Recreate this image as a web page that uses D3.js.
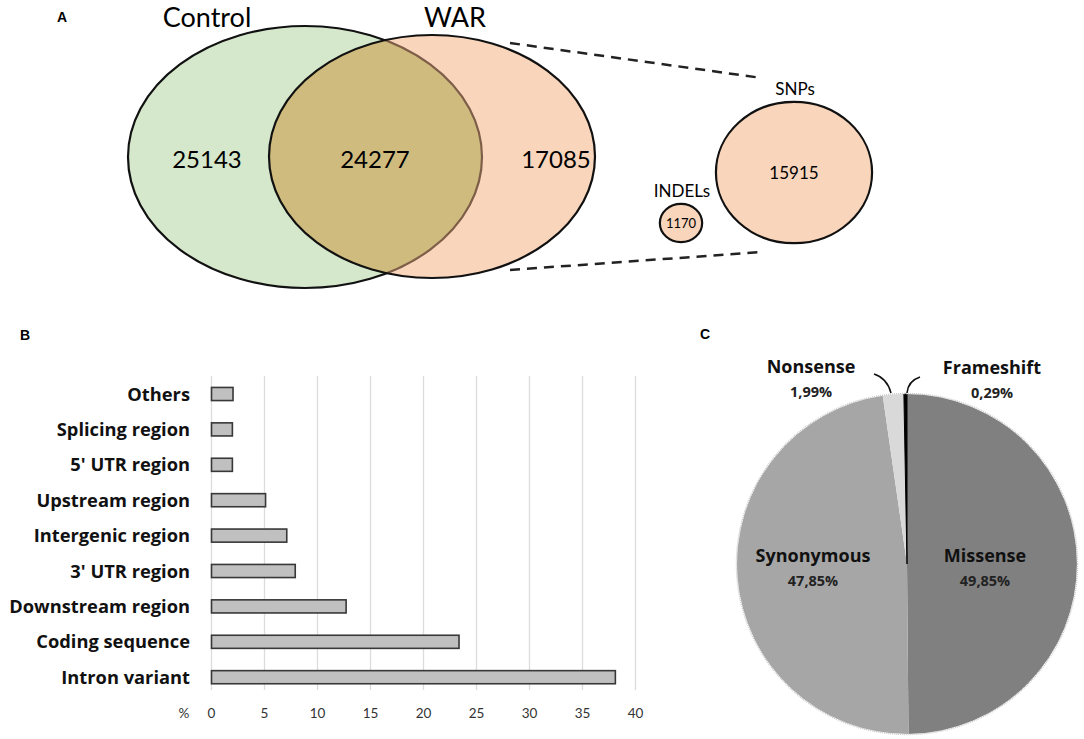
<!DOCTYPE html>
<html><head><meta charset="utf-8">
<script src="https://cdn.jsdelivr.net/npm/d3@7"></script>
<style>body{margin:0;background:#fff}svg{display:block}</style>
</head><body>
<svg id="c" width="1084" height="739"></svg>
<script>
// ---- Data ----
const vennSets = ["Control", "WAR"];
const vennCounts = [25143, 24277, 17085]; // Control only, shared, WAR only
const splitLabels = ["SNPs", "INDELs"];
const splitCounts = [15915, 1170];

const regionCategories = ["Others","Splicing region","5' UTR region","Upstream region","Intergenic region","3' UTR region","Downstream region","Coding sequence","Intron variant"];
const regionValues = [2.03, 1.97, 1.97, 5.1, 7.1, 7.9, 12.7, 23.35, 38.1];
const regionTicks = [0,5,10,15,20,25,30,35,40];

const effectCategories = ["Missense","Synonymous","Nonsense","Frameshift"];
const effectValues = [49.85, 47.85, 1.99, 0.29];
const effectLabels = ["49,85%","47,85%","1,99%","0,29%"];
const effectColors = ["#808080","#a6a6a6","#d9d9d9","#000000"];

const svg = d3.select("#c");
const FONT = "Lato, 'Open Sans', sans-serif";
const BFONT = "'Open Sans', Lato, sans-serif";

// ---- Panel letters ----
[["A",57,22],["B",20,340],["C",700,339]].forEach(([t,x,y])=>{
  svg.append("text").attr("x",x).attr("y",y).text(t)
    .attr("font-family","'Liberation Sans', Arial, sans-serif").attr("font-weight","bold").attr("font-size",14);
});

// ---- Panel A: Venn ----
const A = svg.append("g");
const ctrl = {cx:305, cy:157, rx:177, ry:131};
const war = {cx:432, cy:156.5, rx:163, ry:121.5};
const defs = svg.append("defs");
defs.append("clipPath").attr("id","warClip").append("ellipse")
  .attr("cx",war.cx).attr("cy",war.cy).attr("rx",war.rx).attr("ry",war.ry);

A.append("ellipse").attr("cx",ctrl.cx).attr("cy",ctrl.cy).attr("rx",ctrl.rx).attr("ry",ctrl.ry)
  .attr("fill","#d5e8cb").attr("stroke","#111").attr("stroke-width",2.2);
A.append("ellipse").attr("cx",war.cx).attr("cy",war.cy).attr("rx",war.rx).attr("ry",war.ry)
  .attr("fill","#f8d5bb").attr("stroke","none");
const clipG = A.append("g").attr("clip-path","url(#warClip)");
clipG.append("ellipse").attr("cx",ctrl.cx).attr("cy",ctrl.cy).attr("rx",ctrl.rx).attr("ry",ctrl.ry)
  .attr("fill","#cfbb7e").attr("stroke","#7e5e48").attr("stroke-width",2.2);
A.append("ellipse").attr("cx",war.cx).attr("cy",war.cy).attr("rx",war.rx).attr("ry",war.ry)
  .attr("fill","none").attr("stroke","#111").attr("stroke-width",2.2);

A.append("text").attr("x",207).attr("y",27).attr("text-anchor","middle").text(vennSets[0])
  .attr("font-family",FONT).attr("font-size",27);
A.append("text").attr("x",455).attr("y",27).attr("text-anchor","middle").text(vennSets[1])
  .attr("font-family",FONT).attr("font-size",27);
[207,375,556].forEach((x,i)=>{
  A.append("text").attr("x",x).attr("y",168).attr("text-anchor","middle").text(vennCounts[i])
    .attr("font-family",FONT).attr("font-size",24);
});

// dashed zoom lines
A.append("line").attr("x1",510).attr("y1",43).attr("x2",762).attr("y2",78)
  .attr("stroke","#222").attr("stroke-width",2.5).attr("stroke-dasharray","10,7");
A.append("line").attr("x1",510).attr("y1",270).attr("x2",762).attr("y2",252)
  .attr("stroke","#222").attr("stroke-width",2.5).attr("stroke-dasharray","10,7");

const rScale = d3.scaleSqrt().domain([0, splitCounts[0]]).range([0, 74]);
const splitPos = [{cx:794, cy:172.5, ly:95, fs:17}, {cx:681, cy:223, ly:197, fs:13}];
splitCounts.forEach((v,i)=>{
  const r = rScale(v), p = splitPos[i];
  A.append("ellipse").attr("cx",p.cx).attr("cy",p.cy).attr("rx",r*1.055).attr("ry",r*0.955)
    .attr("fill","#f8d5bb").attr("stroke","#111").attr("stroke-width",2.2);
  A.append("text").attr("x",p.cx).attr("y",p.cy+p.fs*0.36).attr("text-anchor","middle").text(v)
    .attr("font-family",FONT).attr("font-size",p.fs);
  A.append("text").attr("x",p.cx+1).attr("y",p.ly).attr("text-anchor","middle").text(splitLabels[i])
    .attr("font-family",FONT).attr("font-size",17);
});

// ---- Panel B: bar chart ----
const x = d3.scaleLinear().domain([0,40]).range([211.5,635.5]);
const y = d3.scaleBand().domain(regionCategories).range([376.3,694.9]).paddingInner(0.63).paddingOuter(0.315);
const B = svg.append("g");
B.selectAll("line.grid").data(regionTicks).join("line")
  .attr("x1",d=>x(d)).attr("x2",d=>x(d)).attr("y1",376).attr("y2",690)
  .attr("stroke","#dcdcdc").attr("stroke-width",1.3);
B.selectAll("rect.bar").data(regionValues).join("rect")
  .attr("x",x(0)).attr("y",(d,i)=>y(regionCategories[i]))
  .attr("width",d=>x(d)-x(0)).attr("height",y.bandwidth())
  .attr("fill","#c0c0c0").attr("stroke","#383838").attr("stroke-width",1.6);
B.selectAll("text.cat").data(regionCategories).join("text")
  .attr("x",190).attr("y",d=>y(d)+y.bandwidth()/2+6.5).attr("text-anchor","end").text(d=>d)
  .attr("font-family",BFONT).attr("font-weight","bold").attr("font-size",18.3).attr("fill","#111");
B.selectAll("text.tick").data(regionTicks).join("text")
  .attr("x",d=>x(d)).attr("y",718).attr("text-anchor","middle").text(d=>d)
  .attr("font-family",FONT).attr("font-size",13.5).attr("fill","#333");
B.append("text").attr("x",184).attr("y",718).attr("text-anchor","middle").text("%")
  .attr("font-family",FONT).attr("font-size",13.5).attr("fill","#333");

// ---- Panel C: pie ----
const C = svg.append("g").attr("transform","translate(907,564)");
const pie = d3.pie().sort(null).value(d=>d)(effectValues);
const arc = d3.arc().innerRadius(0).outerRadius(170);
C.selectAll("path").data(pie).join("path")
  .attr("d",arc).attr("fill",(d,i)=>effectColors[i])
  .attr("stroke",(d,i)=>i===3?"#000":"none").attr("stroke-width",1);
C.append("circle").attr("r",170.5).attr("fill","none").attr("stroke","#c8c8c8").attr("stroke-width",1.5).attr("stroke-dasharray","1,1");
const lblPos = [[78,-2],[-94,-2],[-96,-191],[85,-190]];
effectCategories.forEach((c,i)=>{
  const [lx,ly] = lblPos[i];
  C.append("text").attr("x",lx).attr("y",ly).attr("text-anchor","middle").text(c)
    .attr("font-family",BFONT).attr("font-weight","bold").attr("font-size",18).attr("fill","#111");
  C.append("text").attr("x",lx).attr("y",ly+24).attr("text-anchor","middle").text(effectLabels[i])
    .attr("font-family",BFONT).attr("font-weight","bold").attr("font-size",14.5).attr("fill","#222");
});
// leader curves
C.append("path").attr("d","M-33,-190 Q-20,-186 -16,-171").attr("fill","none").attr("stroke","#111").attr("stroke-width",1.6);
C.append("path").attr("d","M13,-187 Q1,-183 0,-171").attr("fill","none").attr("stroke","#111").attr("stroke-width",1.6);
</script>
</body></html>
